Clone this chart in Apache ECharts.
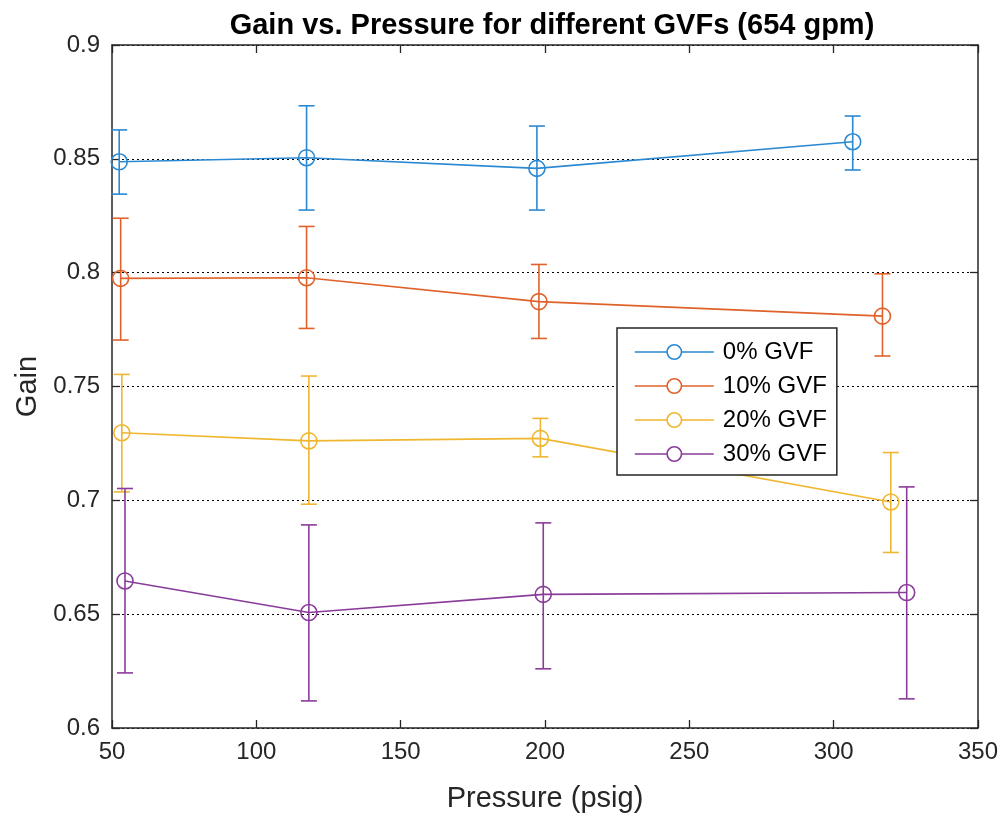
<!DOCTYPE html>
<html>
<head>
<meta charset="utf-8">
<script src="https://cdn.jsdelivr.net/npm/echarts@6/dist/echarts.min.js"></script>
<style>html,body{margin:0;padding:0;background:#fff;}#c{width:1005px;height:821px;}</style>
</head>
<body>
<div id="c"></div>
<script>
const seriesNames = ['0% GVF', '10% GVF', '20% GVF', '30% GVF'];
const colors = ['#2a89d2', '#e0622b', '#efb62f', '#8a3c9a'];

const pressure0 = [52.5, 117.4, 197.2, 306.6];
const gain0 = [0.8487, 0.8505, 0.8458, 0.8575];
const low0 = [0.8345, 0.8275, 0.8275, 0.8451];
const high0 = [0.8627, 0.8733, 0.8644, 0.8688];

const pressure10 = [53.0, 117.4, 197.9, 316.9];
const gain10 = [0.7975, 0.7978, 0.7873, 0.7809];
const low10 = [0.7704, 0.7755, 0.7711, 0.7634];
const high10 = [0.8239, 0.8203, 0.8036, 0.7995];

const pressure20 = [53.4, 118.2, 198.4, 319.8];
const gain20 = [0.7297, 0.7261, 0.7272, 0.6993];
const low20 = [0.7037, 0.6983, 0.7191, 0.6771];
const high20 = [0.7553, 0.7546, 0.7360, 0.7210];

const pressure30 = [54.5, 118.2, 199.4, 325.3];
const gain30 = [0.6646, 0.6507, 0.6587, 0.6595];
const low30 = [0.6242, 0.6119, 0.6260, 0.6128];
const high30 = [0.7052, 0.6892, 0.6901, 0.7059];

const groups = [
  [pressure0, gain0, low0, high0],
  [pressure10, gain10, low10, high10],
  [pressure20, gain20, low20, high20],
  [pressure30, gain30, low30, high30]
];

const axisColor = '#262626';
const fontFam = 'Arial, "Liberation Sans", Helvetica, sans-serif';

const series = [];
groups.forEach((g, i) => {
  const [px, gy, lo, hi] = g;
  series.push({
    type: 'custom',
    name: seriesNames[i] + ' err',
    xAxisIndex: 0, yAxisIndex: 0,
    data: px.map((x, k) => [x, lo[k], hi[k]]),
    encode: { x: 0, y: [1, 2] },
    renderItem: function (params, api) {
      const x = api.value(0);
      const pLo = api.coord([x, api.value(1)]);
      const pHi = api.coord([x, api.value(2)]);
      const hw = 8;
      const st = { stroke: colors[i], lineWidth: 1.6, fill: null };
      return {
        type: 'group',
        children: [
          { type: 'line', shape: { x1: pLo[0], y1: pLo[1], x2: pHi[0], y2: pHi[1] }, style: st },
          { type: 'line', shape: { x1: pLo[0] - hw, y1: pLo[1], x2: pLo[0] + hw, y2: pLo[1] }, style: st },
          { type: 'line', shape: { x1: pHi[0] - hw, y1: pHi[1], x2: pHi[0] + hw, y2: pHi[1] }, style: st }
        ]
      };
    },
    z: 3,
    silent: true
  });
  series.push({
    type: 'line',
    name: seriesNames[i],
    xAxisIndex: 0, yAxisIndex: 0,
    data: px.map((x, k) => [x, gy[k]]),
    symbol: 'circle',
    symbolSize: 16,
    showAllSymbol: true,
    itemStyle: { color: 'transparent', borderColor: colors[i], borderWidth: 1.6 },
    lineStyle: { color: colors[i], width: 1.6 },
    z: 4,
    animation: false
  });
});

const chart = echarts.init(document.getElementById('c'), null, { renderer: 'canvas' });
chart.setOption({
  animation: false,
  backgroundColor: '#ffffff',
  title: {
    text: 'Gain vs. Pressure for different GVFs (654 gpm)',
    left: 547, top: 6, textAlign: 'center',
    textStyle: { fontFamily: fontFam, fontSize: 29, fontWeight: 'bold', color: '#000' }
  },
  grid: { left: 112, right: 27, top: 45, bottom: 93, containLabel: false, show: false },
  legend: {
    data: seriesNames.map((n, i) => ({ name: n, itemStyle: { color: '#fff', borderColor: colors[i], borderWidth: 1.6 }, lineStyle: { color: colors[i], width: 1.6 } })),
    orient: 'vertical',
    left: 617, top: 328,
    padding: [12, 10, 9, 17],
    itemGap: 10,
    itemWidth: 79,
    itemHeight: 18,
    backgroundColor: '#ffffff',
    borderColor: axisColor,
    borderWidth: 1.5,
    borderRadius: 0,
    textStyle: { fontFamily: fontFam, fontSize: 24, color: '#000', padding: [0, 0, 0, 4] },
    z: 10
  },
  xAxis: [{
    type: 'value', min: 50, max: 350, interval: 50,
    position: 'bottom',
    name: 'Pressure (psig)', nameLocation: 'middle', nameGap: 56,
    nameTextStyle: { fontFamily: fontFam, fontSize: 29, color: axisColor },
    axisLine: { show: true, onZero: false, lineStyle: { color: axisColor, width: 1.5 } },
    axisTick: { show: true, inside: true, length: 8, lineStyle: { color: axisColor, width: 1.3 } },
    axisLabel: { fontFamily: fontFam, fontSize: 24, color: axisColor, margin: 12 },
    splitLine: { show: false }
  }, {
    type: 'value', min: 50, max: 350, interval: 50,
    position: 'top',
    axisLine: { show: true, onZero: false, lineStyle: { color: axisColor, width: 1.5 } },
    axisTick: { show: true, inside: true, length: 8, lineStyle: { color: axisColor, width: 1.3 } },
    axisLabel: { show: false },
    splitLine: { show: false }
  }],
  yAxis: [{
    type: 'value', min: 0.6, max: 0.9, interval: 0.05,
    position: 'left',
    name: 'Gain', nameLocation: 'middle', nameGap: 68, nameRotate: 90,
    nameTextStyle: { fontFamily: fontFam, fontSize: 29, color: axisColor },
    axisLine: { show: true, onZero: false, lineStyle: { color: axisColor, width: 1.5 } },
    axisTick: { show: true, inside: true, length: 8, lineStyle: { color: axisColor, width: 1.3 } },
    axisLabel: { fontFamily: fontFam, fontSize: 24, color: axisColor, margin: 12,
      formatter: v => String(+v.toFixed(2)) },
    splitLine: { show: true, lineStyle: { color: '#000', type: [2, 3], width: 1 } }
  }, {
    type: 'value', min: 0.6, max: 0.9, interval: 0.05,
    position: 'right',
    axisLine: { show: true, onZero: false, lineStyle: { color: axisColor, width: 1.5 } },
    axisTick: { show: true, inside: true, length: 8, lineStyle: { color: axisColor, width: 1.3 } },
    axisLabel: { show: false },
    splitLine: { show: false }
  }],
  series: series
});
</script>
</body>
</html>
